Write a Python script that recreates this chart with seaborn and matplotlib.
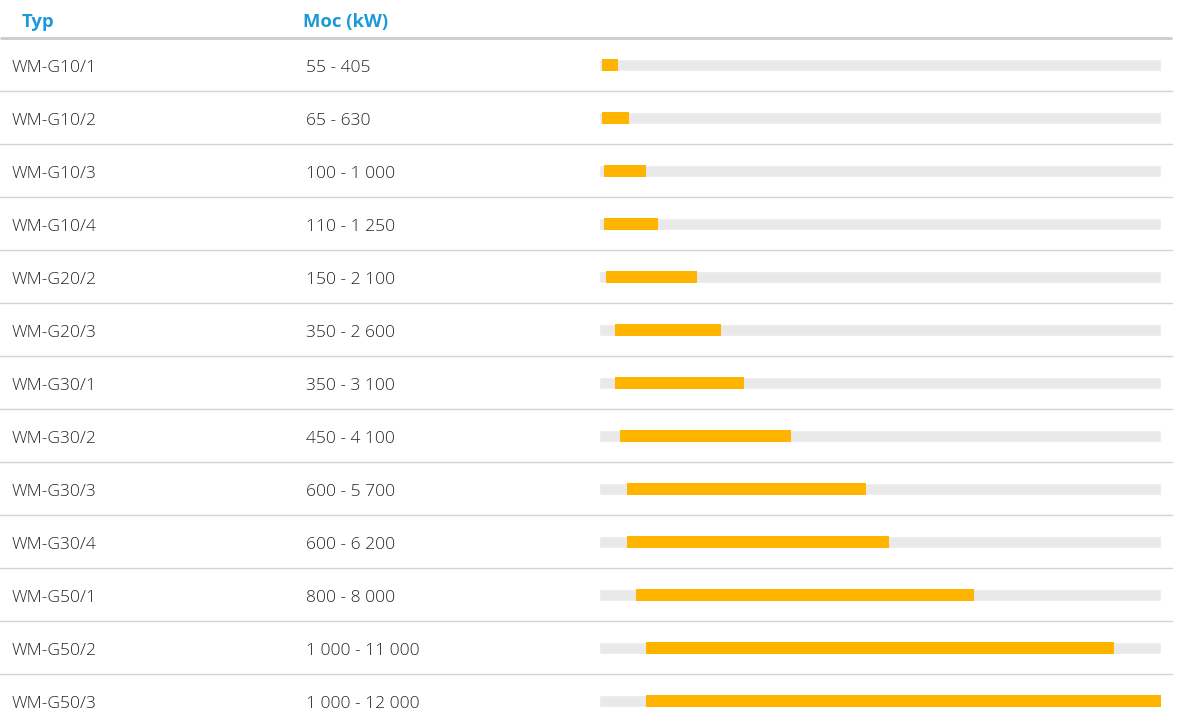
"""Tabela typów z zakresem mocy — odtworzenie jako wykres seaborn."""

import matplotlib.pyplot as plt
import pandas as pd
import seaborn as sns

# ── dane ──────────────────────────────────────────
TYPES = [
    "WM-G10/1", "WM-G10/2", "WM-G10/3", "WM-G10/4", "WM-G20/2",
    "WM-G20/3", "WM-G30/1", "WM-G30/2", "WM-G30/3", "WM-G30/4",
    "WM-G50/1", "WM-G50/2", "WM-G50/3",
]
POWER_MIN = [55, 65, 100, 110, 150, 350, 350, 450, 600, 600, 800, 1000, 1000]
POWER_MAX = [405, 630, 1000, 1250, 2100, 2600, 3100, 4100, 5700, 6200, 8000, 11000, 12000]
SCALE_MAX = 12000
HEADERS = ["Typ", "Moc (kW)"]

BLUE = "#1b9ad7"
ORANGE = "#ffb400"
TRACK = "#e9e9e9"
LINE = "#d3d3d3"
TEXT = "#262626"

sns.set_style("white")
plt.rcParams["font.family"] = ["Open Sans", "DejaVu Sans"]


def fmt(v: int) -> str:
    return f"{v:,}".replace(",", " ")


df = pd.DataFrame({"typ": TYPES, "lo": POWER_MIN, "hi": POWER_MAX})
df["skala"] = SCALE_MAX

W, H = 1178, 725
ROW = 53.0          # wysokość wiersza w px
HEAD = 38.0         # linia pod nagłówkiem
n = len(TYPES)
# wspólne mapowanie y: indeks wiersza -> piksele
y_top = -0.5 - HEAD / ROW
y_bot = y_top + H / ROW

fig = plt.figure(figsize=(W / 100, H / 100), dpi=100)

# oś tła: teksty i linie
ax = fig.add_axes([0, 0, 1, 1])
ax.set_xlim(0, W)
ax.set_ylim(y_bot, y_top)
ax.axis("off")

ax.plot([0, 1172], [-0.5, -0.5], color="#cccccc", lw=2, solid_capstyle="butt")
for i in range(n - 1):
    ax.plot([0, 1172], [i + 0.5, i + 0.5], color=LINE, lw=1)

head_y = -0.5 - (HEAD - 26.7) / ROW
ax.text(22, head_y, HEADERS[0], color=BLUE, fontsize=13.3, fontweight="bold",
        va="baseline", ha="left")
ax.text(303, head_y, HEADERS[1], color=BLUE, fontsize=13.3, fontweight="bold",
        va="baseline", ha="left")

base = 7.6 / ROW
for i, row in df.iterrows():
    ax.text(12, i + base, row["typ"], color=TEXT, fontsize=12.6,
            fontweight="light", va="baseline", ha="left")
    ax.text(306, i + base, f"{fmt(row['lo'])} - {fmt(row['hi'])}", color=TEXT,
            fontsize=12.6, fontweight="light", va="baseline", ha="left")

# oś słupków
bx = fig.add_axes([599 / W, 0, 562 / W, 1])
sns.barplot(data=df, x="skala", y="typ", color=TRACK, width=12 / ROW,
            saturation=1, ax=bx)
bx.barh(df["typ"], df["hi"] - df["lo"], left=df["lo"], height=12 / ROW,
        color=ORANGE, linewidth=0)
bx.set_xlim(0, SCALE_MAX)
bx.set_ylim(y_bot, y_top)
bx.axis("off")

fig.savefig("out.png", dpi=100)
